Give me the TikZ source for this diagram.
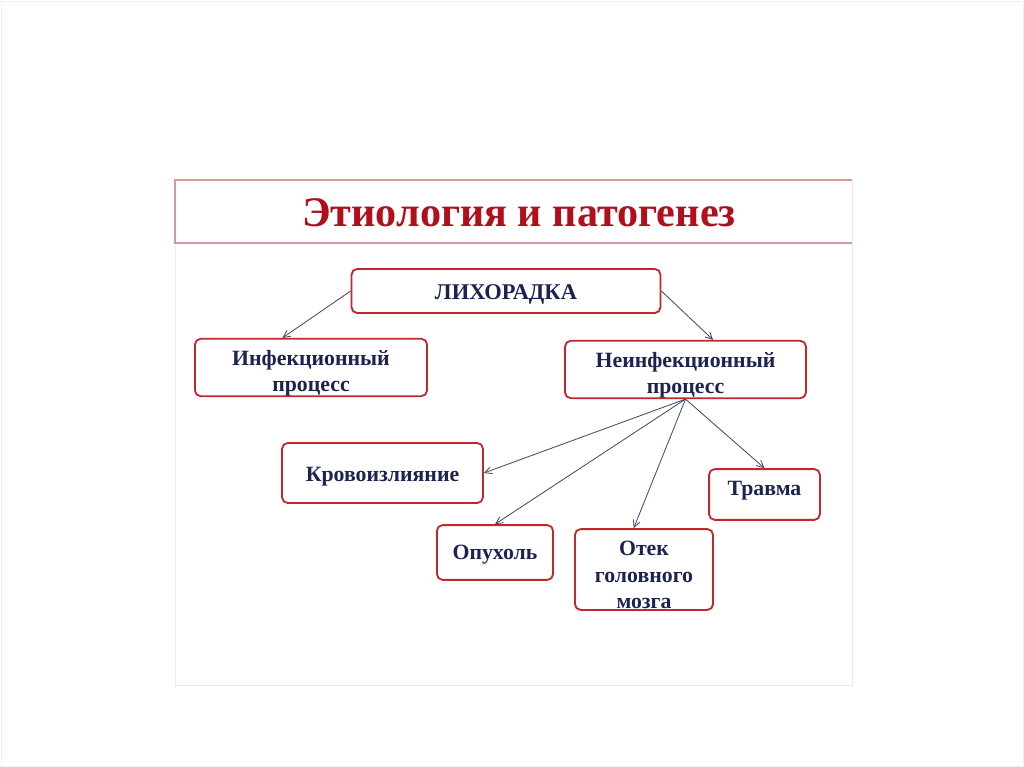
\documentclass[tikz,border=0pt]{standalone}
\usepackage{fontspec}
\setmainfont{Liberation Serif}
\usepackage{xcolor}
\usepackage{tikz}
\usetikzlibrary{positioning, arrows.meta}
\definecolor{borde}{HTML}{C0282E}
\definecolor{titulo}{HTML}{B0101C}
\definecolor{texto}{HTML}{1C2350}
\definecolor{linea}{HTML}{454C66}
\definecolor{marco}{HTML}{D49A9A}
\newcommand{\alto}[1]{\rule{0pt}{#1}}
\tikzset{
    box_titulo/.style={font=\fontsize{30}{34}\selectfont\bfseries, text=titulo, inner sep=0pt},
    box_fever/.style={rectangle, rounded corners=4pt, draw=borde, fill=white, line width=1.3pt, align=center, text height=16pt, font=\fontsize{16}{18}\selectfont\bfseries, text=texto},
    box_process/.style={rectangle, rounded corners=4pt, draw=borde, fill=white, line width=1.3pt, align=center, inner ysep=0pt, font=\fontsize{15.5}{18.5}\selectfont\bfseries, text=texto},
    box_cause/.style={box_fever, text height=15pt, font=\fontsize{15.5}{19}\selectfont\bfseries}
    ,flecha/.style={draw, -{Straight Barb[length=5pt, width=5pt]}, line width=0.6pt, color=linea}
}
\begin{document}
\begin{tikzpicture}[x=0.025cm, y=-0.025cm]
    \useasboundingbox (0,0) rectangle (1024,767);
    \draw[black!6] (1,1) rectangle (1023,766);
    \draw[black!8] (175,180) rectangle (852,685);
    \fill[white] (176,181) rectangle (851,684);
    \draw[marco, line width=1pt] (852,180) -- (175,180) -- (175,243) -- (852,243);

    \node[box_titulo] (titulo) at (519,213) {Этиология и патогенез};

    \node[box_fever, minimum width=7.72cm, minimum height=1.1cm] (lih) at (506,291) {ЛИХОРАДКА};

    \node[box_process, minimum width=5.8cm, minimum height=1.42cm] (inf) at (311,367.5) {\alto{19pt}Инфекционный\\процесс};
    \node[box_process, minimum width=6.02cm, minimum height=1.42cm] (neinf) at (685.5,369.5) {\alto{19pt}Неинфекционный\\процесс};

    \node[box_cause, minimum width=5.02cm, minimum height=1.5cm] (krov) at (382.5,473) {Кровоизлияние};
    \node[box_cause, text height=5pt, minimum width=2.77cm, minimum height=1.27cm] (trav) at (764.5,494.5) {Травма};
    \node[box_cause, text height=13pt, minimum width=2.9cm, minimum height=1.37cm] (opu) at (495,552.5) {Опухоль};
    \node[box_process, font=\fontsize{15.5}{19}\selectfont\bfseries, minimum width=3.45cm, minimum height=2.02cm] (otek) at (644,569.5) {\alto{18pt}Отек\\головного\\мозга};

    \draw[flecha] (lih.west) -- (inf.134);
    \draw[flecha] (lih.east) -- (neinf.47);
    \draw[flecha] (neinf.south) -- (krov.east);
    \draw[flecha] (neinf.south) -- (opu.north);
    \draw[flecha] (neinf.south) -- (otek.104);
    \draw[flecha] (neinf.south) -- (trav.north);
\end{tikzpicture}
\end{document}
